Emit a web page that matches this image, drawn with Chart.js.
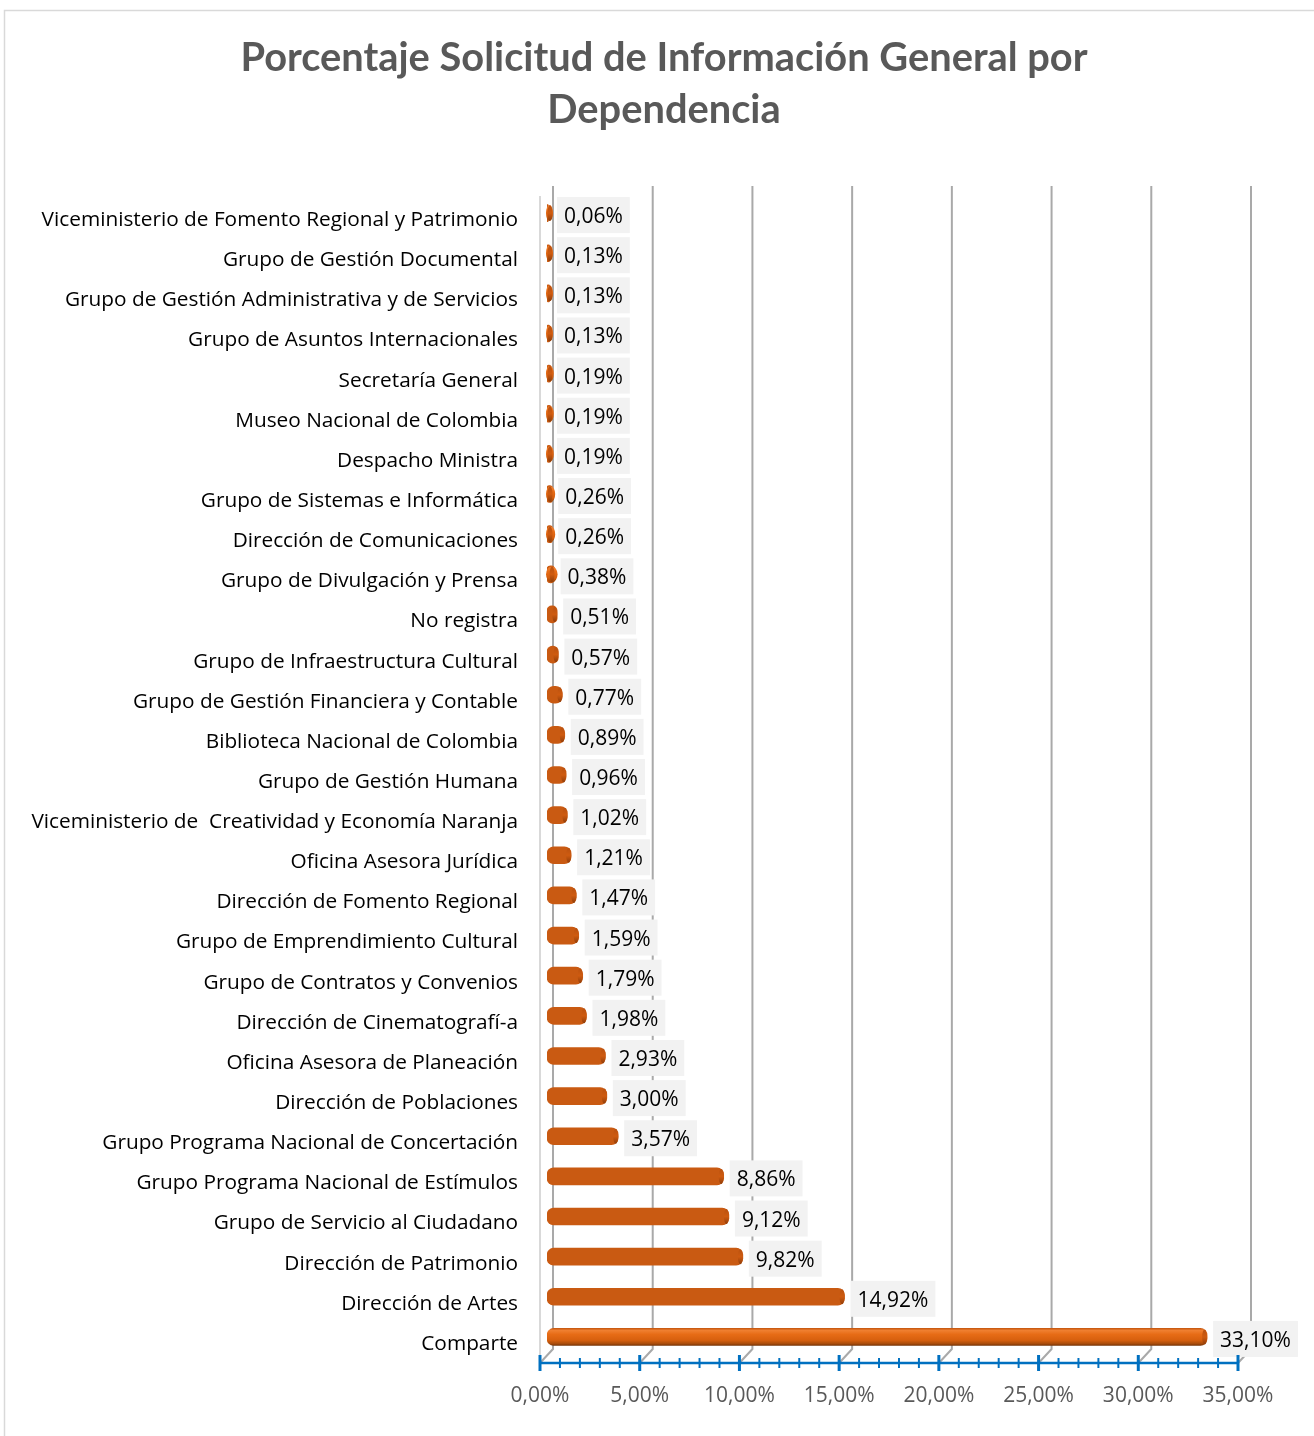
<!DOCTYPE html>
<html>
<head>
<meta charset="utf-8">
<script src="https://cdn.jsdelivr.net/npm/chart.js@4.4.1/dist/chart.umd.min.js"></script>
<style>
  html, body { margin: 0; padding: 0; background: #ffffff; }
  #c { display: block; }
</style>
</head>
<body>
<canvas id="c" width="1314" height="1436"></canvas>
<script>
const titleLines = ['Porcentaje Solicitud de Información General por', 'Dependencia'];
const categories = [
  'Viceministerio de Fomento Regional y Patrimonio',
  'Grupo de Gestión Documental',
  'Grupo de Gestión Administrativa y de Servicios',
  'Grupo de Asuntos Internacionales',
  'Secretaría General',
  'Museo Nacional de Colombia',
  'Despacho Ministra',
  'Grupo de Sistemas e Informática',
  'Dirección de Comunicaciones',
  'Grupo de Divulgación y Prensa',
  'No registra',
  'Grupo de Infraestructura Cultural',
  'Grupo de Gestión Financiera y Contable',
  'Biblioteca Nacional de Colombia',
  'Grupo de Gestión Humana',
  'Viceministerio de  Creatividad y Economía Naranja',
  'Oficina Asesora Jurídica',
  'Dirección de Fomento Regional',
  'Grupo de Emprendimiento Cultural',
  'Grupo de Contratos y Convenios',
  'Dirección de Cinematografí-a',
  'Oficina Asesora de Planeación',
  'Dirección de Poblaciones',
  'Grupo Programa Nacional de Concertación',
  'Grupo Programa Nacional de Estímulos',
  'Grupo de Servicio al Ciudadano',
  'Dirección de Patrimonio',
  'Dirección de Artes',
  'Comparte'
];
const values = [
  0.06, 0.13, 0.13, 0.13, 0.19, 0.19, 0.19, 0.26, 0.26, 0.38,
  0.51, 0.57, 0.77, 0.89, 0.96, 1.02, 1.21, 1.47, 1.59, 1.79,
  1.98, 2.93, 3.00, 3.57, 8.86, 9.12, 9.82, 14.92, 33.10
];
const axisMin = 0;
const axisMax = 35;
const axisStep = 5;

const FONT = '"Open Sans", Lato, sans-serif';
const TITLE_FONT = 'Lato, "Open Sans", sans-serif';
const fmt = v => v.toFixed(2).replace('.', ',') + '%';

const DX = 7, DY = -7;      // 3D depth shift of the bars
const GX = 13, GY = -14;    // back-wall shift of gridlines

function bodyGradient(ctx, y, h) {
  const g = ctx.createLinearGradient(0, y - h / 2, 0, y + h / 2);
  g.addColorStop(0, '#c95a12');
  g.addColorStop(0.12, '#ef7f30');
  g.addColorStop(0.35, '#e76c16');
  g.addColorStop(0.7, '#d65f0e');
  g.addColorStop(0.9, '#a84c0b');
  g.addColorStop(1, '#7a3507');
  return g;
}

const decor = {
  id: 'decor',
  beforeDraw(chart) {
    const ctx = chart.ctx;
    const x = chart.scales.x;
    const area = chart.chartArea;
    ctx.save();
    ctx.fillStyle = '#ffffff';
    ctx.fillRect(0, 0, chart.width, chart.height);
    ctx.strokeStyle = '#d9d9d9';
    ctx.lineWidth = 1.5;
    ctx.strokeRect(4.5, 10.5, chart.width + 20, chart.height + 20);

    ctx.fillStyle = '#595959';
    ctx.font = 'bold 39.8px ' + TITLE_FONT;
    ctx.textAlign = 'center';
    ctx.textBaseline = 'middle';
    titleLines.forEach((t, i) => ctx.fillText(t, chart.width / 2 + 7, 58 + i * 52));

    const axisY = area.bottom - 1;
    ctx.strokeStyle = '#d9d9d9';
    ctx.lineWidth = 2;
    ctx.beginPath();
    ctx.moveTo(x.getPixelForValue(axisMin), area.top - 4);
    ctx.lineTo(x.getPixelForValue(axisMin), axisY);
    ctx.stroke();
    ctx.strokeStyle = '#a9a9a9';
    ctx.lineWidth = 2;
    for (let v = axisMin; v <= axisMax; v += axisStep) {
      const px = x.getPixelForValue(v);
      ctx.beginPath();
      ctx.moveTo(px + GX, area.top - 14);
      ctx.lineTo(px + GX, axisY + GY);
      ctx.lineTo(px, axisY);
      ctx.stroke();
    }
    ctx.restore();
  },
  afterDraw(chart) {
    const ctx = chart.ctx;
    const x = chart.scales.x;
    const area = chart.chartArea;
    const axisY = area.bottom - 1;
    ctx.save();
    ctx.strokeStyle = '#0070c0';
    ctx.lineWidth = 2.5;
    ctx.beginPath();
    ctx.moveTo(x.getPixelForValue(axisMin), axisY);
    ctx.lineTo(x.getPixelForValue(axisMax), axisY);
    ctx.stroke();
    for (let v = axisMin; v <= axisMax; v += 1) {
      const px = x.getPixelForValue(v);
      const major = v % axisStep === 0;
      ctx.lineWidth = major ? 3 : 2;
      ctx.beginPath();
      ctx.moveTo(px, axisY - (major ? 8 : 5));
      ctx.lineTo(px, axisY + (major ? 8 : 5));
      ctx.stroke();
    }
    ctx.restore();
  },
  beforeDatasetsDraw(chart) {
    const ctx = chart.ctx;
    ctx.save();
    ctx.translate(DX, DY);
    const meta = chart.getDatasetMeta(0);
    meta.data.forEach(el => {
      el.options.backgroundColor = bodyGradient(ctx, el.y, el.height);
    });
  },
  afterDatasetsDraw(chart) {
    const ctx = chart.ctx;
    const meta = chart.getDatasetMeta(0);
    meta.data.forEach(el => {
      const h = el.height;
      const len = el.x - el.base;
      if (len < 8) {
        // short cylinders appear as a rounded blob
        const w = Math.max(len, 3);
        ctx.fillStyle = bodyGradient(ctx, el.y, h);
        ctx.beginPath();
        ctx.ellipse(el.base + w / 2 + 1, el.y, w / 2 + 2, h / 2 - 0.5, 0, 0, Math.PI * 2);
        ctx.fill();
      }
      const cx = Math.max(el.x - 2.5, el.base + 3);
      const g = ctx.createLinearGradient(0, el.y - h / 2, 0, el.y + h / 2);
      g.addColorStop(0, '#b65010');
      g.addColorStop(0.5, '#cf5b10');
      g.addColorStop(1, '#8a3a08');
      ctx.fillStyle = g;
      ctx.beginPath();
      ctx.ellipse(cx, el.y, 2.5, h / 2 - 1, 0, 0, Math.PI * 2);
      ctx.fill();
    });
    ctx.restore();
    ctx.save();
    ctx.font = '21px ' + FONT;
    ctx.textBaseline = 'middle';
    meta.data.forEach((el, i) => {
      const txt = fmt(values[i]);
      const w = ctx.measureText(txt).width;
      const left = Math.max(el.x, el.base + 4) + DX + 6;
      const cy = el.y - 5;
      ctx.fillStyle = '#f2f2f2';
      ctx.fillRect(left, cy - 18, w + 14, 36);
      ctx.fillStyle = '#000000';
      ctx.fillText(txt, left + 7, cy + 2);
    });
    ctx.restore();
  }
};

new Chart(document.getElementById('c'), {
  type: 'bar',
  data: {
    labels: categories,
    datasets: [{
      data: values,
      backgroundColor: '#e76c16',
      barThickness: 17,
      borderRadius: 7,
      borderSkipped: false
    }]
  },
  options: {
    indexAxis: 'y',
    responsive: false,
    devicePixelRatio: 1,
    animation: false,
    layout: { padding: { left: 0, right: 76, top: 200, bottom: 0 } },
    plugins: {
      legend: { display: false },
      tooltip: { enabled: false },
      title: { display: false }
    },
    scales: {
      x: {
        type: 'linear',
        min: axisMin,
        max: axisMax,
        ticks: {
          stepSize: axisStep,
          color: '#595959',
          font: { family: FONT, size: 21 },
          padding: 19,
          maxRotation: 0,
          callback: v => fmt(v)
        },
        grid: { display: false, drawTicks: false },
        border: { display: false },
        afterFit: s => { s.height = 72; }
      },
      y: {
        type: 'category',
        ticks: {
          color: '#000000',
          font: { family: FONT, size: 20.8 },
          padding: 22,
          autoSkip: false
        },
        grid: { display: false, drawTicks: false },
        border: { display: false },
        afterFit: s => { s.width = 540; }
      }
    }
  },
  plugins: [decor]
});
</script>
</body>
</html>
